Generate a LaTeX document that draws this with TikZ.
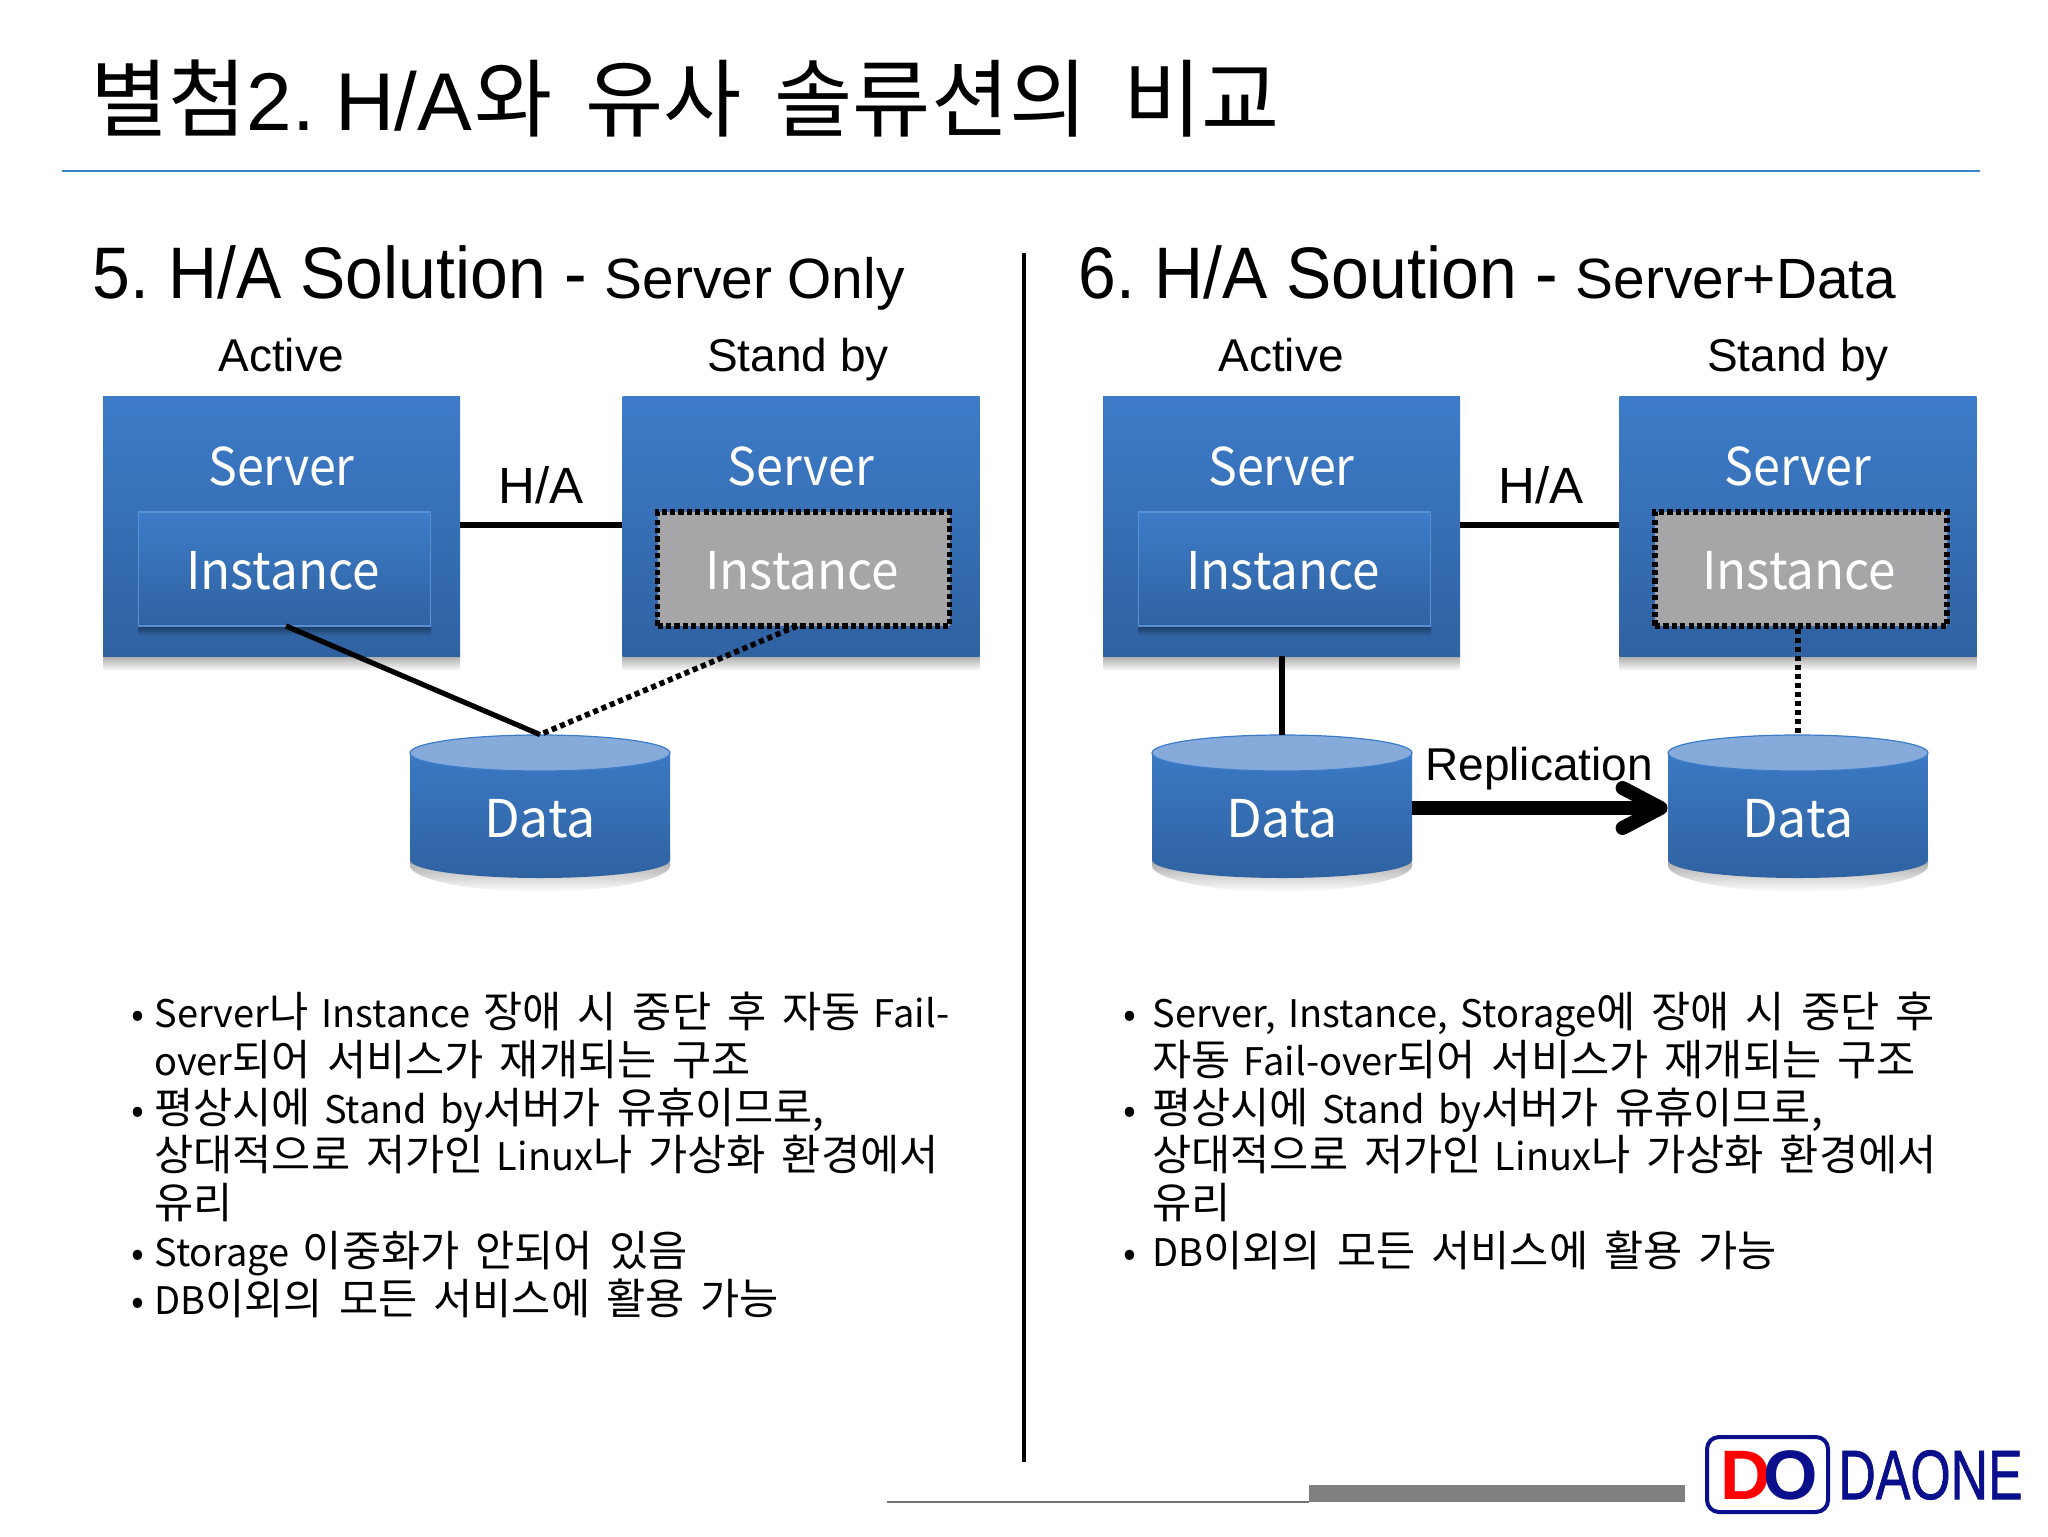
\documentclass[tikz,border=0pt]{standalone}
\usepackage{fontspec}
\usepackage{graphicx}
\usetikzlibrary{arrows.meta}
\setmainfont{Liberation Sans}
\newfontfamily\kr{Noto Sans CJK KR}
\newfontfamily\logofont[FakeBold=1.2]{Liberation Sans}
\newcommand{\KT}[1]{{\kr\fontsize{42.5}{48}\selectfont #1}}
\newcommand{\K}[1]{{\kr\fontsize{21.3}{23.85}\selectfont\spaceskip=8pt\relax #1}}
\newcommand{\bodyfnt}{\kr\fontsize{19}{23.85}\selectfont\spaceskip=6.5pt\relax}
\newcommand{\nar}[1]{\scalebox{.93}[1]{#1}}
\newcommand{\nai}[1]{\scalebox{.95}[1]{#1}}
\newcommand{\headtxt}[1]{\scalebox{.93}[1]{#1}}
\definecolor{boxtop}{HTML}{3D7CC9}
\definecolor{boxbot}{HTML}{2F62A1}
\definecolor{capfill}{HTML}{86ABDB}
\definecolor{rulecol}{HTML}{3A86C8}
\definecolor{navy}{HTML}{0A0F8C}
\definecolor{instgrey}{HTML}{A6A5A7}
\tikzset{
  serverbox/.style={rectangle,inner sep=0pt,top color=boxtop,bottom color=boxbot,minimum width=178.5pt,minimum height=130pt},
  shadowbox/.style={rectangle,inner sep=0pt,top color=black!40,bottom color=white,minimum width=178.5pt,minimum height=9pt},
  instshadow/.style={rectangle,inner sep=0pt,top color=black!45!boxbot,bottom color=boxbot,minimum width=146pt,minimum height=5pt},
  instbox/.style={rectangle,inner sep=0pt,top color=boxtop,bottom color=boxbot,draw=boxtop!85!white,line width=.6pt,minimum width=146pt,minimum height=57pt},
  instidle/.style={rectangle,inner sep=0pt,fill=instgrey,draw=black,line width=2.7pt,dash pattern=on 2.6pt off 1.6pt,minimum width=146pt,minimum height=57pt},
  wlabel/.style={inner sep=0pt,text=white,font=\kr\fontsize{26}{30}\selectfont},
  blabel/.style={inner sep=0pt,text=black,text height=16.5pt,text depth=0pt,font=\fontsize{23}{27}\selectfont},
  halabel/.style={inner sep=0pt,text=black,font=\fontsize{25.5}{30}\selectfont},
  headlabel/.style={inner sep=0pt,anchor=base west,text=black,font=\fontsize{36.5}{42}\selectfont},
  bodytext/.style={inner sep=0pt,anchor=north west,align=left,text=black,font=\bodyfnt},
  link/.style={draw=black,line width=2.6pt},
  dotlink/.style={draw=black,line width=2.8pt,dash pattern=on 2.6pt off 1.9pt},
  cylpoint/.style={inner sep=0pt,minimum width=130pt,minimum height=71.5pt}
}
\newcommand{\ServerBox}[2]{% name, center x
  \node[shadowbox] at (#2,662) {};
  \node[serverbox] (#1) at (#2,526) {};
  \node[wlabel] (#1t) at (#2,466) {\nar{Server}};
}
\newcommand{\DataCyl}[2]{% name, center x
  \begin{scope}[shift={(#2,0)}]
    \shade[top color=black!45,bottom color=white]
      (-130,850) -- (-130,866) .. controls (-130,878) and (-72,892) .. (0,892)
      .. controls (72,892) and (130,878) .. (130,866) -- (130,850) -- cycle;
    \shade[top color=boxtop,bottom color=boxbot]
      (-130,753) -- (-130,860) .. controls (-130,870) and (-72,878) .. (0,878)
      .. controls (72,878) and (130,870) .. (130,860) -- (130,753)
      .. controls (130,743) and (72,735) .. (0,735)
      .. controls (-72,735) and (-130,743) .. (-130,753) -- cycle;
    \fill[capfill,draw=boxtop,line width=.6pt]
      (-130,753) .. controls (-130,763) and (-72,771) .. (0,771)
      .. controls (72,771) and (130,763) .. (130,753)
      .. controls (130,743) and (72,735) .. (0,735)
      .. controls (-72,735) and (-130,743) .. (-130,753) -- cycle;
  \end{scope}
  \node[cylpoint] (#1) at (#2,806.5) {};
  \node[wlabel] (#1t) at (#2,819) {Data};
}
\begin{document}
\begin{tikzpicture}[x=0.5pt,y=-0.5pt]
\useasboundingbox (0,0) rectangle (2048,1536);
\fill[white] (0,0) rectangle (2048,1536);

% title
\node[inner sep=0pt,anchor=base west,font=\fontsize{41}{48}\selectfont] (title) at (90,130)
  {\KT{별첨}2.\kern-5pt{} H/A\KT{\hspace{.03em}와\hspace{.16em} 유사\hspace{.16em} 솔류션의\hspace{.2em} 비교}};
\coordinate (ruleL) at (62,171);
\coordinate (ruleR) at (1980,171);
\draw[rulecol,line width=1pt] (ruleL) -- (ruleR);

% divider
\coordinate (divT) at (1024,253);
\coordinate (divB) at (1024,1462);
\draw[black,line width=2.4pt] (divT) -- (divB);

% headings
\node[headlabel] (h5) at (92,298) {\headtxt{5.\kern-3pt{} H/A Solution -}\kern-1.5pt{} {\fontsize{28.4}{34}\selectfont Server Only}};
\node[headlabel] (h6) at (1078,298) {\headtxt{6.\kern-3pt{} H/A Soution -}\kern-1.5pt{} {\fontsize{28.4}{34}\selectfont Server+Data}};

\node[blabel] (a1) at (281,355) {Active};
\node[blabel] (s1) at (798,355) {Stand by};
\node[blabel] (a2) at (1281,355) {Active};
\node[blabel] (s2) at (1798,355) {Stand by};

% left panel
\ServerBox{srvA}{281.5}
\ServerBox{srvB}{801}
\node[instshadow] at (284.5,630) {};
\node[instbox] (instA) at (284.5,569) {};
\node[instidle] (instB) at (803.5,569) {};
\node[wlabel] at (283,571) {\nai{Instance}};
\node[wlabel] at (802,571) {\nai{Instance}};
\DataCyl{dataL}{540}
\node[halabel] (ha1) at (541,485) {H/A};
\draw[link] (srvA.east |- 0,525) -- (srvB.west |- 0,525);
\coordinate (instAout) at (286,626);
\coordinate (instBout) at (797,626);
\draw[link] (instAout) -- (dataL.north);
\draw[dotlink] (instBout) -- (dataL.north);

% right panel
\ServerBox{srvC}{1281.5}
\ServerBox{srvD}{1798}
\node[instshadow] at (1284.5,630) {};
\node[instbox] (instC) at (1284.5,569) {};
\node[instidle] (instD) at (1801,569) {};
\node[wlabel] at (1283,571) {\nai{Instance}};
\node[wlabel] at (1799,571) {\nai{Instance}};
\DataCyl{dataA}{1282}
\DataCyl{dataB}{1798}
\node[halabel] (ha2) at (1541,485) {H/A};
\draw[link] (srvC.east |- 0,525) -- (srvD.west |- 0,525);
\draw[link] (srvC.south -| dataA.north) -- (dataA.north);
\draw[dotlink] (instD.south -| dataB.north) -- (dataB.north);
\node[blabel] (rep) at (1539,764) {Replication};
\draw[draw=black,line width=7pt,-{Straight Barb[length=19pt,width=20pt,line width=7pt,round]}]
  (dataA.east |- 0,808) -- (dataB.west |- 0,808);

% body text
\node[bodytext] (txtL) at (154,992) {%
\llap{•\hspace{5pt}}Server\K{나} Instance \K{장애 시 중단 후 자동} Fail-\\
over\K{되어 서비스가 재개되는 구조}\\
\llap{•\hspace{5pt}}\K{평상시에} Stand by\K{서버가 유휴이므로,}\\
\K{상대적으로 저가인} Linux\K{나 가상화 환경에서}\\
\K{유리}\\
\llap{•\hspace{5pt}}Storage \K{이중화가 안되어 있음}\\
\llap{•\hspace{5pt}}DB\K{이외의 모든 서비스에 활용 가능}};
\node[bodytext] (txtR) at (1152,992) {%
\llap{•\hspace{8pt}}Server, Instance, Storage\K{에 장애 시 중단 후}\\
\K{자동} Fail-over\K{되어 서비스가 재개되는 구조}\\
\llap{•\hspace{8pt}}\K{평상시에} Stand by\K{서버가 유휴이므로,}\\
\K{상대적으로 저가인} Linux\K{나 가상화 환경에서}\\
\K{유리}\\
\llap{•\hspace{8pt}}DB\K{이외의 모든 서비스에 활용 가능}};

% footer
\coordinate (footL) at (887,1502);
\coordinate (footR) at (1309,1502);
\draw[black!55,line width=.8pt] (footL) -- (footR);
\fill[black!50] (1309,1485) rectangle (1685,1502);

% logo
\node[draw=navy,line width=2pt,rounded corners=6pt,inner sep=0pt,minimum width=60.5pt,minimum height=37.5pt] (logoBox) at (1767.5,1474.5) {};
\node[inner sep=0pt,font=\bfseries\fontsize{35}{40}\selectfont] (logoDO) at (1769,1475) {\textcolor{red}{D}\kern-4pt\textcolor{navy}{O}};
\node[inner sep=0pt,anchor=west,text=navy,font=\logofont\fontsize{35}{40}\selectfont] (logoName) at (1838,1475) {\scalebox{.74}[1]{DAONE}};
\end{tikzpicture}
\end{document}
